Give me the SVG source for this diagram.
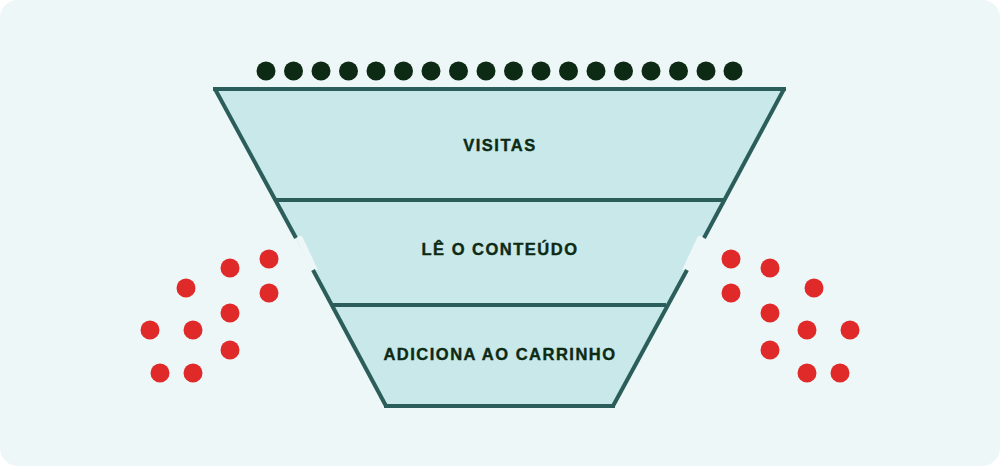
<svg xmlns="http://www.w3.org/2000/svg" width="1000" height="466" viewBox="0 0 1000 466">
<style>
.e{stroke:#2b5e5a;stroke-width:4;fill:none;stroke-linecap:butt}
.t{font-family:"Liberation Sans",Arial,sans-serif;font-weight:bold;font-size:16.5px;fill:#0d2a14;text-anchor:middle;letter-spacing:1.5px;stroke:#0d2a14;stroke-width:0.4}
.k{fill:#0d2a14}.r{fill:#e02a2a}
</style>
<rect x="0" y="0" width="1000" height="466" rx="18" fill="#eef7f8"/>
<g id="funnel">
<polygon points="215,89 784,89 613,406 386,406" fill="#c8e8e9"/>
<polygon points="295,236 302,236 318,270 312,270" fill="#eef7f8"/>
<polygon points="705,236 698,236 682,270 688,270" fill="#eef7f8"/>
</g>
<g id="connectors">
<line class="e" x1="213" y1="89" x2="786" y2="89"/>
<line class="e" x1="215" y1="89" x2="296" y2="238"/>
<line class="e" x1="313" y1="270" x2="386" y2="406"/>
<line class="e" x1="784" y1="89" x2="704" y2="238"/>
<line class="e" x1="687" y1="270" x2="613" y2="406"/>
<line class="e" x1="384" y1="406" x2="615" y2="406"/>
<line class="e" x1="276" y1="200" x2="723" y2="200"/>
<line class="e" x1="333" y1="305" x2="666" y2="305"/>
</g>
<g id="n1"><text class="t" x="500" y="151">VISITAS</text></g>
<g id="n2"><text class="t" x="500" y="255">LÊ O CONTEÚDO</text></g>
<g id="n3"><text class="t" x="500" y="360">ADICIONA AO CARRINHO</text></g>
<g id="top-dots" class="k">
<circle cx="266" cy="71" r="9.5"/><circle cx="293.5" cy="71" r="9.5"/><circle cx="321" cy="71" r="9.5"/><circle cx="348.5" cy="71" r="9.5"/><circle cx="376" cy="71" r="9.5"/><circle cx="403.5" cy="71" r="9.5"/><circle cx="431" cy="71" r="9.5"/><circle cx="458.5" cy="71" r="9.5"/><circle cx="486" cy="71" r="9.5"/><circle cx="513.5" cy="71" r="9.5"/><circle cx="541" cy="71" r="9.5"/><circle cx="568.5" cy="71" r="9.5"/><circle cx="596" cy="71" r="9.5"/><circle cx="623.5" cy="71" r="9.5"/><circle cx="651" cy="71" r="9.5"/><circle cx="678.5" cy="71" r="9.5"/><circle cx="706" cy="71" r="9.5"/><circle cx="733" cy="71" r="9.5"/>
</g>
<g id="left-dots" class="r">
<circle cx="269" cy="259" r="9.5"/><circle cx="230" cy="268" r="9.5"/><circle cx="186" cy="288" r="9.5"/><circle cx="269" cy="293" r="9.5"/><circle cx="230" cy="313" r="9.5"/><circle cx="150" cy="330" r="9.5"/><circle cx="193" cy="330" r="9.5"/><circle cx="230" cy="350" r="9.5"/><circle cx="160" cy="373" r="9.5"/><circle cx="193" cy="373" r="9.5"/>
</g>
<g id="right-dots" class="r">
<circle cx="731" cy="259" r="9.5"/><circle cx="770" cy="268" r="9.5"/><circle cx="814" cy="288" r="9.5"/><circle cx="731" cy="293" r="9.5"/><circle cx="770" cy="313" r="9.5"/><circle cx="850" cy="330" r="9.5"/><circle cx="807" cy="330" r="9.5"/><circle cx="770" cy="350" r="9.5"/><circle cx="840" cy="373" r="9.5"/><circle cx="807" cy="373" r="9.5"/>
</g>
</svg>
